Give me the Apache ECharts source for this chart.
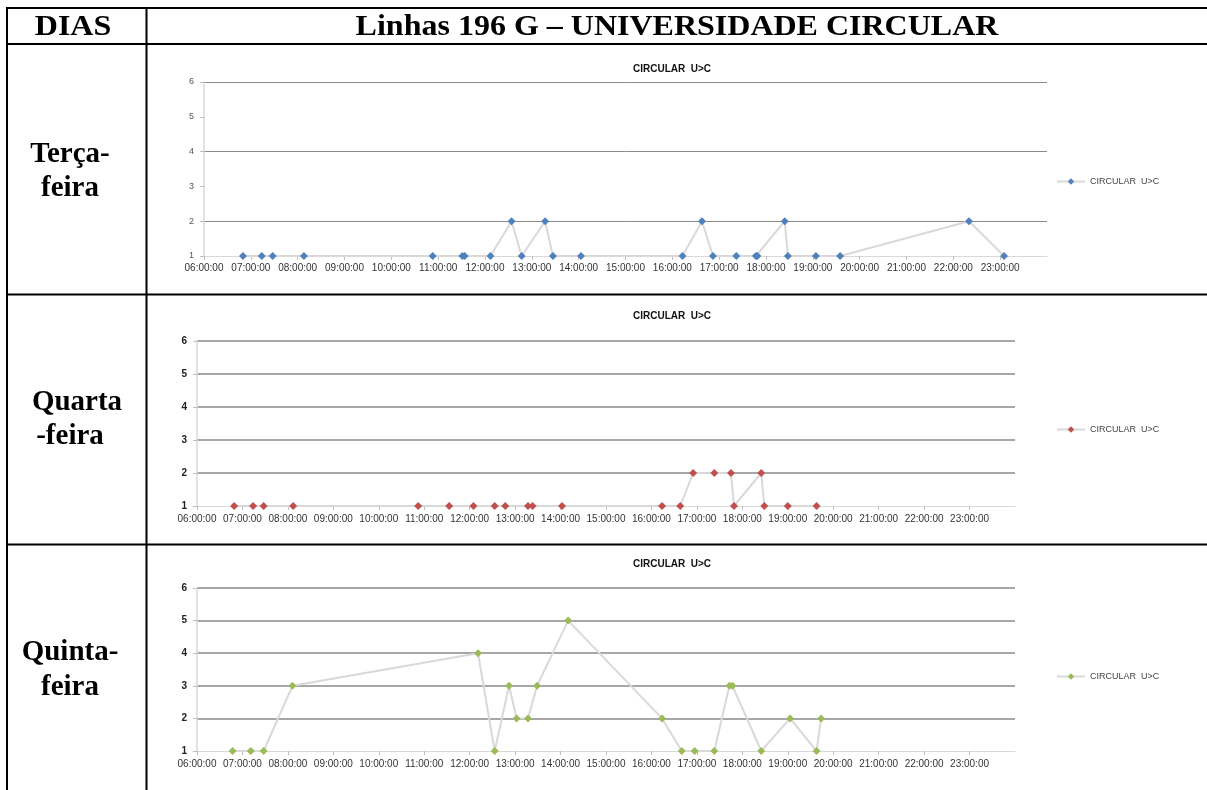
<!DOCTYPE html>
<html>
<head>
<meta charset="utf-8">
<script src="https://cdn.jsdelivr.net/npm/echarts@6/dist/echarts.min.js"></script>
<style>
html,body{margin:0;padding:0;background:#fff;}
#c{width:1207px;height:790px;}
</style>
</head>
<body>
<div id="c"></div>
<script>
// ---- Data ----
const headerDays = 'DIAS';
const headerTitle = 'Linhas 196 G – UNIVERSIDADE CIRCULAR';
const rowLabels = [['Terça-', 'feira'], ['Quarta', '-feira'], ['Quinta-', 'feira']];
const chartTitle = 'CIRCULAR  U>C';
const seriesName = 'CIRCULAR  U>C';

const tercaTimes = ['06:50','07:14','07:28','08:08','10:53','11:31','11:34','12:07','12:34','12:47','13:17','13:27','14:03','16:13','16:38','16:52','17:22','17:47','17:49','18:24','18:28','19:04','19:35','22:20','23:05'];
const tercaCounts = [1,1,1,1,1,1,1,1,2,1,2,1,1,1,2,1,1,1,1,2,1,1,1,2,1];

const quartaTimes = ['06:49','07:14','07:28','08:07','10:52','11:33','12:05','12:33','12:47','13:17','13:23','14:02','16:14','16:38','16:55','17:23','17:45','17:49','18:25','18:29','19:00','19:38'];
const quartaCounts = [1,1,1,1,1,1,1,1,1,1,1,1,1,1,2,2,2,1,2,1,1,1];

const quintaTimes = ['06:47','07:11','07:28','08:06','12:11','12:33','12:52','13:02','13:17','13:29','14:10','16:14','16:40','16:57','17:23','17:43','17:47','18:25','19:03','19:38','19:44'];
const quintaCounts = [1,1,1,3,4,1,3,2,2,3,5,2,1,1,1,3,3,1,2,1,2];

const yTicks = [1,2,3,4,5,6];
const xMinHour = 6, xMaxHour = 24;

// ---- Helpers ----
function toHours(t){ const p = t.split(':'); return +p[0] + (+p[1])/60; }
function pairs(times, counts){ return times.map((t,i)=>[toHours(t), counts[i]]); }
function pad(n){ return (n<10?'0':'')+n; }

const colors = ['#4F81BD', '#C0504D', '#9BBB59'];
const grids = [
  {left:204, top:82, width:843, height:174},
  {left:197, top:341, width:818, height:165},
  {left:197, top:588, width:818, height:163}
];
const titleTops = [59, 306, 554];
const legendTops = [172, 420, 667];
const splitColors = [
  ['rgba(0,0,0,0)', '#8a8a8a'],
  ['rgba(0,0,0,0)', '#8a8a8a', '#8a8a8a', '#8a8a8a', '#8a8a8a', '#8a8a8a'],
  ['rgba(0,0,0,0)', '#8a8a8a', '#8a8a8a', '#8a8a8a', '#8a8a8a', '#8a8a8a']
];
const datasets = [pairs(tercaTimes, tercaCounts), pairs(quartaTimes, quartaCounts), pairs(quintaTimes, quintaCounts)];
const names = ['terca','quarta','quinta'];

const xAxes = [], yAxes = [], series = [], titles = [], legends = [];
for (let i=0;i<3;i++){
  xAxes.push({
    type:'value', gridIndex:i, min:xMinHour, max:xMaxHour, interval:1,
    axisLine:{show:true, lineStyle:{color:'#d9d9d9', width:1}},
    axisTick:{show:true, length:4, lineStyle:{color:'#bfbfbf'}},
    splitLine:{show:false},
    axisLabel:{show:true, showMaxLabel:false, margin: i===0?7:8, color:'#333', fontSize:10, fontFamily:'Liberation Sans',
      formatter: v => pad(v)+':00:00'}
  });
  yAxes.push({
    type:'value', gridIndex:i, min:yTicks[0], max:yTicks[yTicks.length-1], interval:1,
    axisLine:{show:true, lineStyle:{color:'#d9d9d9', width:1.5}},
    axisTick:{show:true, length:4, lineStyle:{color:'#bfbfbf'}},
    splitLine:{show:true, lineStyle:{color:splitColors[i], width: i===0?1:1.5}},
    axisLabel:{color: i===0?'#555':'#222', fontSize: i===0?9:10, fontWeight: i===0?'normal':'bold', margin:10, fontFamily:'Liberation Sans'}
  });
  series.push({
    name:names[i], type:'line', xAxisIndex:i, yAxisIndex:i,
    data:datasets[i], symbol:'diamond', symbolSize:8,
    lineStyle:{color:'#d9d9d9', width:2},
    itemStyle:{color:colors[i]},
    emphasis:{disabled:true}, animation:false
  });
  titles.push({
    text:chartTitle, left:667, top:titleTops[i], textAlign:'center',
    textStyle:{fontSize:10, fontWeight:'bold', color:'#111', fontFamily:'Liberation Sans'}
  });
  legends.push({
    data:[names[i]], left:1051, top:legendTops[i], itemWidth:28, itemHeight:8, itemGap:4,
    formatter: () => seriesName, selectedMode:false,
    textStyle:{fontSize:9, color:'#444', fontFamily:'Liberation Sans'}
  });
}

// ---- Table graphics ----
const black = '#000';
function hline(y, x1, x2){ return {type:'line', shape:{x1:x1,y1:y,x2:x2,y2:y}, style:{stroke:black, lineWidth:2}, silent:true, z:100}; }
function vline(x, y1, y2){ return {type:'line', shape:{x1:x,y1:y1,x2:x,y2:y2}, style:{stroke:black, lineWidth:2}, silent:true, z:100}; }
function serifText(str, x, y, size, sy){
  return {type:'text', x:x, y:y, scaleY:sy, originX:0, originY:0, silent:true, z:100,
    style:{text:str, x:0, y:0, align:'center', verticalAlign:'middle', fill:'#000',
      font:'bold ' + size + 'px "Liberation Serif", "Times New Roman", serif'}};
}
const graphics = [
  hline(8, 6, 1207), hline(44, 6, 1207), hline(294.5, 6, 1207), hline(544.5, 6, 1207),
  vline(7, 7, 790), vline(146.5, 7, 790),
  serifText(headerDays, 73, 27, 32, 0.92),
  serifText(headerTitle, 677, 27, 32, 0.92),
  serifText(rowLabels[0][0], 70, 155, 29, 0.98), serifText(rowLabels[0][1], 70, 189, 29, 0.98),
  serifText(rowLabels[1][0], 77, 403, 29, 0.98), serifText(rowLabels[1][1], 70, 437, 29, 0.98),
  serifText(rowLabels[2][0], 70, 653, 29, 0.98), serifText(rowLabels[2][1], 70, 688, 29, 0.98)
];

const chart = echarts.init(document.getElementById('c'), null, {renderer:'canvas'});
chart.setOption({
  animation:false,
  backgroundColor:'#fff',
  title:titles,
  legend:legends,
  grid:grids,
  xAxis:xAxes,
  yAxis:yAxes,
  series:series,
  graphic:graphics
});
</script>
</body>
</html>
